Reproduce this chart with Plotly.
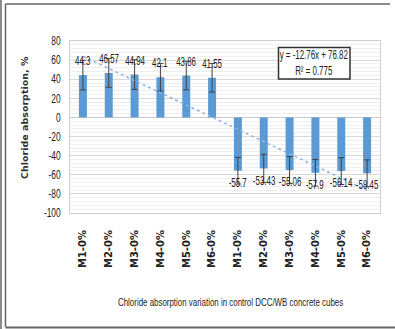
import plotly.graph_objects as go

# Chloride absorption (%) for control DCC/WB concrete cubes
categories = ["M1-0%", "M2-0%", "M3-0%", "M4-0%", "M5-0%", "M6-0%",
              "M1-0%", "M2-0%", "M3-0%", "M4-0%", "M5-0%", "M6-0%"]
absorption = [44.3, 46.57, 44.94, 42.1, 43.86, 41.55,
              -55.7, -53.43, -55.06, -57.9, -56.14, -58.45]
error_vals = [15.5, 15.0, 15.5, 14.5, 15.0, 15.0,
              14.0, 14.8, 14.0, 14.0, 14.0, 14.0]

# Linear trend fitted over the series
trend_slope = -12.76
trend_intercept = 76.82
trend_r2 = 0.775

y_ticks = [80, 60, 40, 20, 0, -20, -40, -60, -80, -100]

W, H = 395, 329
L, R, T, B = 70, 380, 41, 213

def px(x):
    return (x - L) / (R - L)

def py(y):
    return (B - y) / (B - T)

xpos = list(range(1, len(categories) + 1))
sans = "Liberation Sans, Arial, sans-serif"
x_title = "Chloride absorption variation in control DCC/WB concrete cubes"
y_title = "Chloride absorption, %"

fig = go.Figure()
fig.add_trace(go.Bar(
    x=xpos, y=absorption, width=0.31,
    marker=dict(color="#5B9BD5", line=dict(width=0)),
    error_y=dict(type="data", array=error_vals, visible=True,
                 color="#404040", thickness=1, width=3),
    showlegend=False,
))
fig.add_trace(go.Scatter(
    x=[xpos[0], xpos[-1]],
    y=[trend_slope * xpos[0] + trend_intercept, trend_slope * xpos[-1] + trend_intercept],
    mode="lines", line=dict(color="#8DB4E2", width=1.5, dash="dot"),
    showlegend=False,
))

annotations = []
for xv, v in zip(xpos, absorption):
    annotations.append(dict(
        x=xv, y=v, xref="x", yref="y", text=f"{v:g}", showarrow=False,
        xanchor="center", yanchor="middle",
        yshift=14 if v >= 0 else -12,
        font=dict(family=sans, size=12, color="#222222"),
    ))

# Trendline equation (box outline drawn as a shape below)
annotations.append(dict(
    x=px(314), y=py(63), xref="paper", yref="paper",
    xanchor="center", yanchor="middle",
    text=f"y = {trend_slope}x + {trend_intercept}<br>R² = {trend_r2}",
    showarrow=False, align="center",
    font=dict(family=sans, size=12, color="#222222"),
))
annotations.append(dict(
    x=px(24), y=py(118), xref="paper", yref="paper",
    xanchor="center", yanchor="middle",
    text=f"<b>{y_title}</b>", textangle=-90, showarrow=False,
    font=dict(family="DejaVu Sans, sans-serif", size=9.5, color="#333333"),
))
annotations.append(dict(
    x=px(231), y=py(302), xref="paper", yref="paper",
    xanchor="center", yanchor="middle",
    text=x_title, showarrow=False,
    font=dict(family=sans, size=11, color="#222222"),
))

frame = "#666666"
shapes = [
    dict(type="line", xref="paper", yref="paper", x0=px(1), x1=px(1), y0=py(0), y1=py(329),
         line=dict(color=frame, width=1.5)),
    dict(type="line", xref="paper", yref="paper", x0=px(5.5), x1=px(5.5), y0=py(4), y1=py(327),
         line=dict(color=frame, width=1.5)),
    dict(type="line", xref="paper", yref="paper", x0=px(5.5), x1=px(390), y0=py(4), y1=py(4),
         line=dict(color=frame, width=1.5)),
    dict(type="line", xref="paper", yref="paper", x0=px(5.5), x1=px(395), y0=py(327.5), y1=py(327.5),
         line=dict(color=frame, width=2)),
    dict(type="rect", xref="paper", yref="paper", x0=px(278.5), x1=px(350), y0=py(47.5), y1=py(79),
         line=dict(color="#333333", width=1.5), fillcolor="white", layer="above"),
]

fig.update_layout(
    width=W, height=H,
    margin=dict(l=L, r=W - R, t=T, b=H - B),
    paper_bgcolor="white", plot_bgcolor="white",
    annotations=annotations, shapes=shapes,
    xaxis=dict(
        range=[0.5, len(categories) + 0.5],
        tickmode="array", tickvals=xpos,
        ticktext=[f"<b>{c}</b>" for c in categories],
        tickangle=-90, ticks="", showgrid=False, zeroline=False,
        showline=True, mirror=True, linecolor="#d0d0d0", linewidth=1,
        ticklabelstandoff=12,
        tickfont=dict(family="DejaVu Sans, sans-serif", size=10, color="#222222"),
    ),
    yaxis=dict(
        range=[-100, 80], tickmode="array", tickvals=y_ticks,
        ticktext=[str(t) for t in y_ticks],
        showgrid=True, gridcolor="#d9d9d9", gridwidth=1,
        minor=dict(dtick=4, showgrid=True, gridcolor="#efefef", gridwidth=1),
        zeroline=True, zerolinecolor="#c8c8c8", zerolinewidth=1,
        showline=True, mirror=True, linecolor="#d0d0d0", linewidth=1,
        ticks="", ticklabelstandoff=6,
        tickfont=dict(family=sans, size=12, color="#222222"),
    ),
)

# Narrow (condensed) rendering: scale text horizontally about its anchor
condense_js = """
var gd = document.getElementById('{plot_id}');
function squish(el, f, anchor) {
  var bb = el.getBBox();
  if (!bb.width) { return; }
  var ax = anchor === 'end' ? bb.x + bb.width : bb.x + bb.width / 2;
  var prev = el.getAttribute('transform') || '';
  el.setAttribute('transform', prev + ' translate(' + ax + ',0) scale(' + f + ',1) translate(' + (-ax) + ',0)');
}
gd.querySelectorAll('.ytick text').forEach(function (t) { squish(t, 0.7, 'end'); });
gd.querySelectorAll('text.annotation-text').forEach(function (t) {
  var s = t.textContent;
  if (s.indexOf('Chloride absorption,') === 0) { return; }
  if (s.indexOf('Chloride absorption variation') === 0) { squish(t, 0.72, 'middle'); return; }
  squish(t, 0.66, 'middle');
});
"""

fig.write_html("out.html", post_script=condense_js)
